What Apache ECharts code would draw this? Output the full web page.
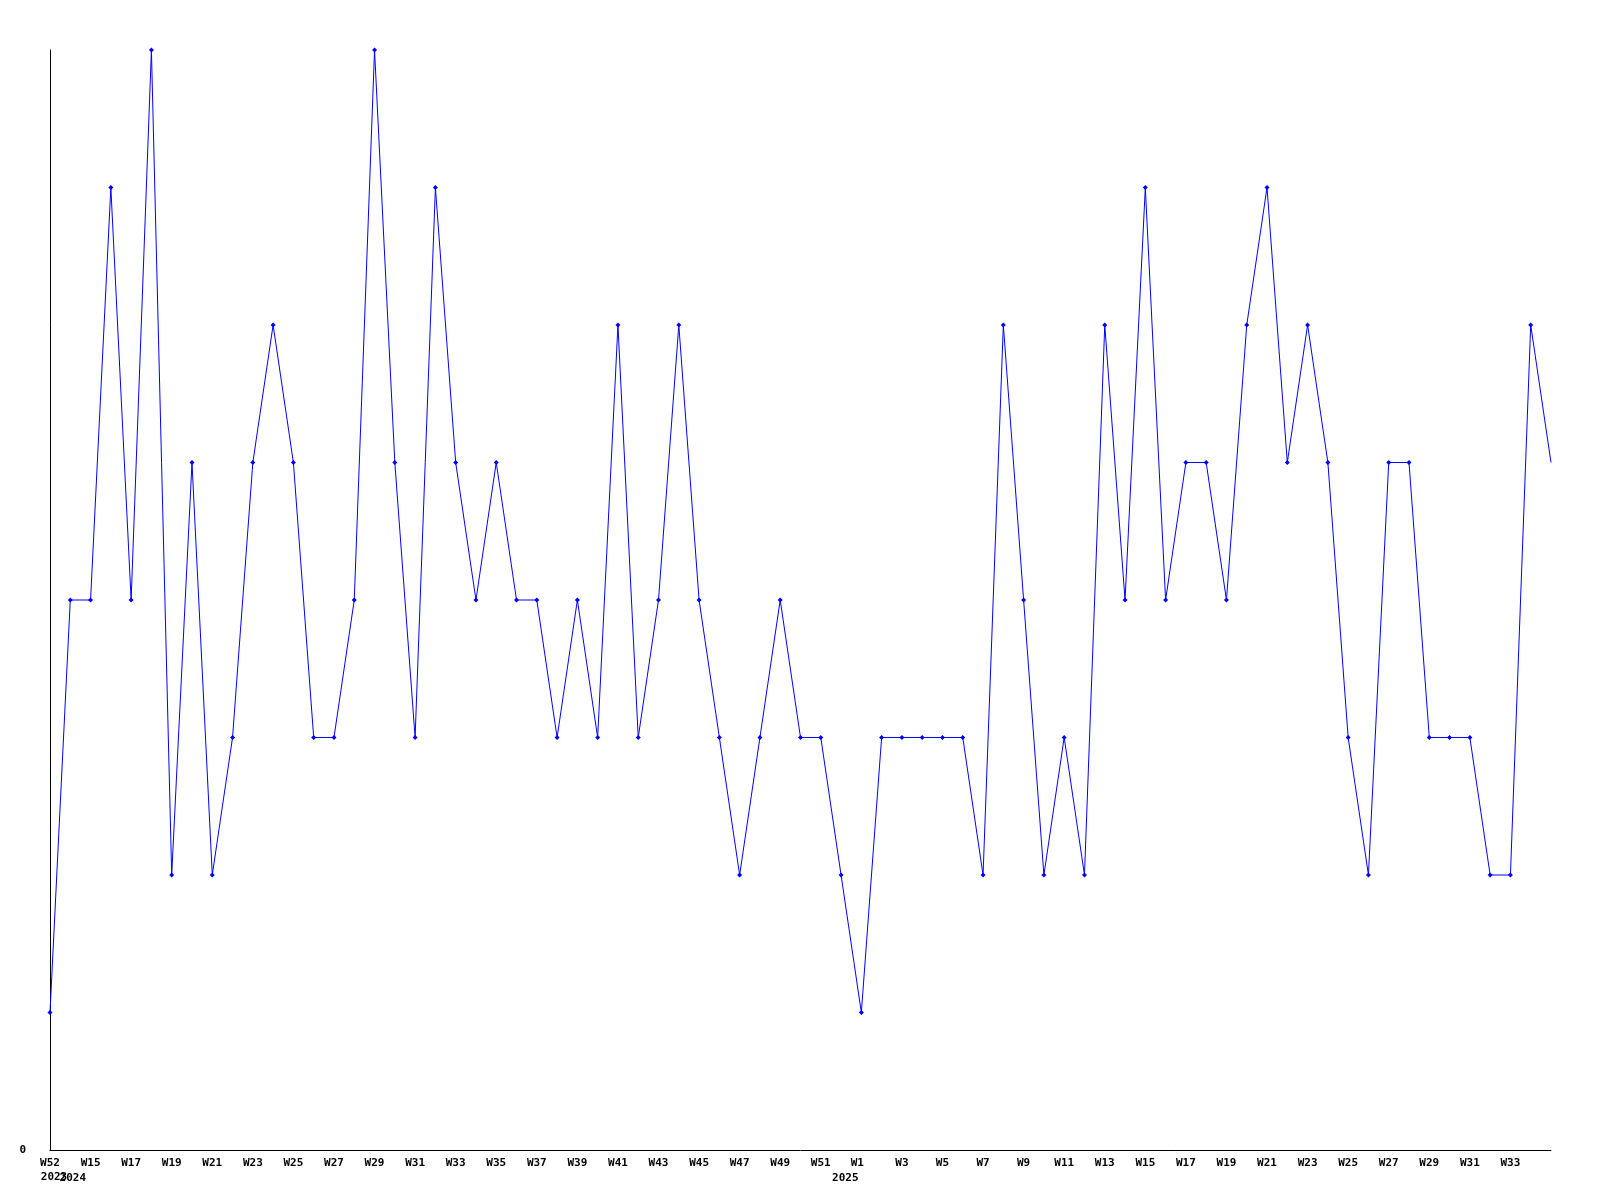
<!DOCTYPE html>
<html>
<head>
<meta charset="utf-8">
<script src="https://cdn.jsdelivr.net/npm/echarts@6/dist/echarts.min.js"></script>
<style>html,body{margin:0;padding:0;background:#fff}#c{width:1600px;height:1200px}</style>
</head>
<body>
<div id="c"></div>
<script>
// categories: ISO weeks, W52 2023 then W14 2024 .. W35 2025
const weeks = [
  'W52',
  'W14','W15','W16','W17','W18','W19','W20','W21','W22','W23','W24','W25','W26','W27','W28','W29','W30','W31','W32','W33',
  'W34','W35','W36','W37','W38','W39','W40','W41','W42','W43','W44','W45','W46','W47','W48','W49','W50','W51','W52',
  'W1','W2','W3','W4','W5','W6','W7','W8','W9','W10','W11','W12','W13','W14','W15','W16','W17','W18','W19','W20',
  'W21','W22','W23','W24','W25','W26','W27','W28','W29','W30','W31','W32','W33','W34','W35'
];
const years = [
  '2023',
  '2024','','','','','','','','','','','','','','','','','','','',
  '','','','','','','','','','','','','','','','','','','',
  '2025','','','','','','','','','','','','','','','','','','','',
  '','','','','','','','','','','','','','',''
];
const values = [
  1,
  4,4,7,4,8,2,5,2,3,5,6,5,3,3,4,8,5,3,7,5,
  4,5,4,4,3,4,3,6,3,4,6,4,3,2,3,4,3,3,2,
  1,3,3,3,3,3,2,6,4,2,3,2,6,4,7,4,5,5,4,6,
  7,5,6,5,3,2,5,5,3,3,3,2,2,6,5
];
const shownWeekLabels = ['W52','W1','W3','W5','W7','W9','W11','W13','W15','W17','W19','W21','W23','W25','W27','W29','W31','W33','W35','W37','W39','W41','W43','W45','W47','W49','W51'];

const chart = echarts.init(document.getElementById('c'));
const font = '"DejaVu Sans Mono", monospace';
const labelBase = {fontFamily: font, fontWeight: 'bold', fontSize: 11, color: '#000'};

chart.setOption({
  animation: false,
  backgroundColor: '#fff',
  grid: {left: 50, right: 49, top: 50, bottom: 50, containLabel: false},
  xAxis: [{
    type: 'category',
    data: weeks,
    boundaryGap: false,
    axisLine: {show: true, lineStyle: {color: '#000', width: 1}},
    axisTick: {show: false},
    splitLine: {show: false},
    axisLabel: Object.assign({}, labelBase, {
      margin: 8,
      hideOverlap: false,
      interval: function (i, v) {
        if (i === values.length - 1) return false;
        if (i === 0) return true;
        return shownWeekLabels.indexOf(v) >= 0 && v !== 'W52';
      },
      formatter: function (v, i) {
        if (i === 0) return '{n|' + v + '}\n{a|' + years[0] + '}';
        if (v === 'W1') return '{w|' + v + '}';
        return v;
      },
      rich: {
        n: Object.assign({}, labelBase, {lineHeight: 10}),
        a: Object.assign({}, labelBase, {padding: [0, 0, 0, 8], lineHeight: 19}),
        w: Object.assign({}, labelBase, {padding: [0, 8, 0, 0]})
      }
    })
  }, {
    type: 'category',
    data: years,
    position: 'bottom',
    offset: 15,
    boundaryGap: false,
    axisLine: {show: false},
    axisTick: {show: false},
    splitLine: {show: false},
    axisLabel: Object.assign({}, labelBase, {
      margin: 8,
      hideOverlap: false,
      interval: function (i, v) { return v !== '' && i !== 0; },
      formatter: function (v) {
        if (v === '2025') return '{b|' + v + '}';
        return '{c|' + v + '}';
      },
      rich: {
        b: Object.assign({}, labelBase, {padding: [0, 32, 0, 0]}),
        c: Object.assign({}, labelBase, {padding: [0, 0, 0, 5]})
      }
    })
  }],
  yAxis: {
    type: 'value',
    min: 0,
    max: 8,
    interval: 8,
    axisLine: {show: true, lineStyle: {color: '#000', width: 1}},
    axisTick: {show: false},
    splitLine: {show: false},
    axisLabel: Object.assign({}, labelBase, {
      margin: 24,
      formatter: function (v) { return v === 0 ? '0' : ''; }
    })
  },
  series: [{
    type: 'line',
    xAxisIndex: 0,
    data: values.map(function (v, i) {
      return i === values.length - 1 ? {value: v, symbol: 'none'} : v;
    }),
    symbol: 'diamond',
    symbolSize: 5,
    showAllSymbol: true,
    lineStyle: {color: '#0000ff', width: 1},
    itemStyle: {color: '#0000ff'},
    emphasis: {disabled: true}
  }]
});
</script>
</body>
</html>
